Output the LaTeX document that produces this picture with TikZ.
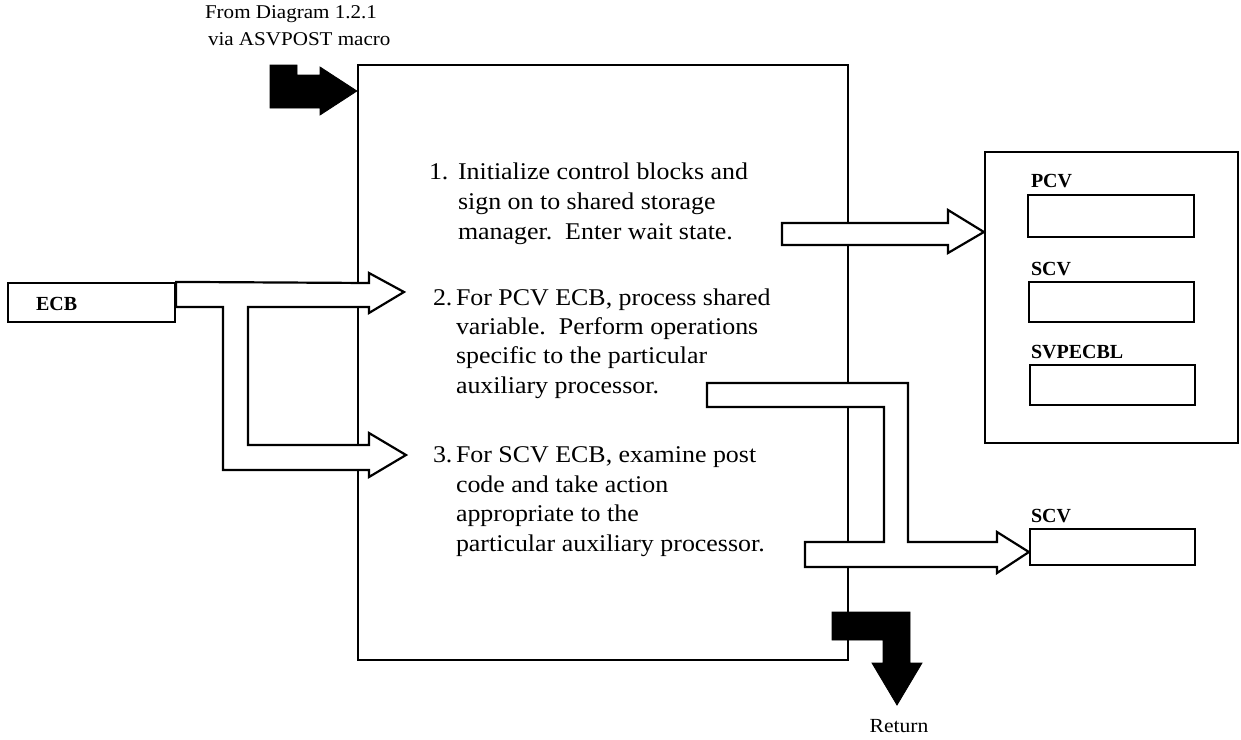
\documentclass[tikz,border=0pt]{standalone}
\usepackage{fontspec}
\setmainfont{Liberation Serif}[FakeStretch=1.08]
\newfontfamily\lblfont{Liberation Serif}
\begin{document}
\begin{tikzpicture}[x=1pt,y=-1pt,
  line width=2pt,
  box/.style={draw, line width=2.2pt, inner sep=0pt, minimum width=#1},
  txt/.style={inner sep=0pt, anchor=base west, font=\fontsize{24}{28}\selectfont},
  small/.style={inner sep=0pt, anchor=base west, font=\fontsize{19.5}{23}\selectfont},
  lbl/.style={inner sep=0pt, anchor=base west, font=\fontsize{20}{24}\lblfont\bfseries},
  hollow/.style={draw, fill=white, line width=2.2pt, line join=miter},
  solid/.style={fill=black, draw=black, line width=0.8pt}
]
\useasboundingbox (0,0) rectangle (1241,739);

% main process box
\node[box=490, minimum height=595] (main) at (603,362.5) {};

% output area with its three fields
\node[box=253, minimum height=291] (out) at (1111.5,297.5) {};
\node[box=166, minimum height=42] (pcv) at (1111,216) {};
\node[box=165, minimum height=40] (scv) at (1111.5,302) {};
\node[box=165, minimum height=40] (svp) at (1112.5,385) {};
\node[lbl] (pcvl) at (1030,187) {PCV};
\node[lbl] (scvl) at (1030,275) {SCV};
\node[lbl] (svpl) at (1030,358) {SVPECBL};

% separate SCV field
\node[box=165, minimum height=36] (scv2) at (1112.5,547) {};
\node[lbl] (scv2l) at (1030,522) {SCV};

% input ECB
\node[box=167, minimum height=39] (ecb) at (91.5,302.5) {};
\node[lbl] (ecbl) at (35,310) {ECB};

% ECB feeding steps 2 and 3
\path[hollow] (ecb.north east) -- (369,283) -- (369,273) -- (404,292) -- (369,313)
  -- (369,307) -- (248,307) -- (248,445) -- (369,445) -- (369,433) -- (406,455)
  -- (369,477) -- (369,470) -- (223,470) -- (223,307) -- (ecb.east |- 0,307) -- cycle;

% step 1 to the output area
\path[hollow] (782,223) -- (948,223) -- (948,210) -- (out.west |- 0,232) -- (948,253)
  -- (948,245) -- (782,245) -- cycle;

% steps 2 and 3 to the SCV field
\path[hollow] (707,383) -- (908,383) -- (908,542) -- (997,542) -- (997,532)
  -- (scv2.west |- 0,552) -- (997,573) -- (997,567) -- (805,567) -- (805,542)
  -- (884,542) -- (884,407) -- (707,407) -- cycle;

% entry and exit
\path[solid] (270,65) -- (297,65) -- (297,75) -- (320,75) -- (320,67)
  -- (main.west |- 0,91) -- (320,115) -- (320,108) -- (270,108) -- cycle;
\path[solid] (832,612) -- (910,612) -- (910,663) -- (922,663) -- (897,705)
  -- (872,663) -- (883,663) -- (883,640) -- (832,640) -- cycle;

\node[small] (from1) at (204,18) {From Diagram 1.2.1};
\node[small] (from2) at (207,45) {via ASVPOST macro};
\node[inner sep=0pt, anchor=base, font=\fontsize{20}{22}\selectfont] (ret) at (899,732) {Return};

% step texts
\node[txt] (n1) at (428,179) {1.};
\node[txt] (s1a) at (457,179) {Initialize control blocks and};
\node[txt] (s1b) at (457,209) {sign on to shared storage};
\node[txt] (s1c) at (457,239) {manager.\ \ Enter wait state.};

\node[txt] (n2) at (432,305) {2.};
\node[txt] (s2a) at (455,305) {For PCV ECB, process shared};
\node[txt] (s2b) at (455,334) {variable.\ \ Perform operations};
\node[txt] (s2c) at (455,363) {specific to the particular};
\node[txt] (s2d) at (455,393) {auxiliary processor.};

\node[txt] (n3) at (432,462) {3.};
\node[txt] (s3a) at (455,462) {For SCV ECB, examine post};
\node[txt] (s3b) at (455,492) {code and take action};
\node[txt] (s3c) at (455,521) {appropriate to the};
\node[txt] (s3d) at (455,551) {particular auxiliary processor.};
\end{tikzpicture}
\end{document}
